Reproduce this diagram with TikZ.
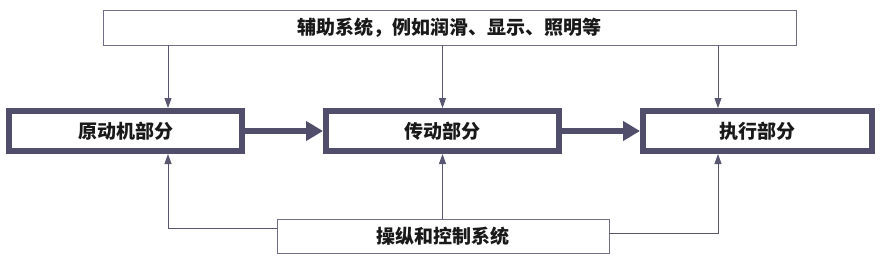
\documentclass[tikz,border=0pt]{standalone}
\usepackage{fontspec}
\newfontfamily\cjk{Noto Sans CJK SC}
\usetikzlibrary{arrows.meta}
\definecolor{frame}{RGB}{80,78,106}
\definecolor{thinline}{RGB}{88,86,112}
\begin{document}
\begin{tikzpicture}[x=1pt,y=-1pt,
  every node/.style={font=\cjk\bfseries\fontsize{19}{22}\selectfont, text=black!90, inner sep=0pt},
  partbox/.style={draw=frame, line width=6pt, minimum width=233pt, minimum height=40pt},
  sysbox/.style={draw=thinline!85, line width=0.9pt, fill=white},
  thinarrow/.style={draw=thinline, line width=0.9pt, -{Triangle[length=10pt,width=7pt]}},
  thickarrow/.style={draw=frame, line width=6pt, -{Triangle[length=17pt,width=19pt]}}]
\useasboundingbox[fill=white] (0,0) rectangle (884,263);
\node[sysbox, minimum width=693pt, minimum height=35pt] (aux) at (449.5,27.5) {辅助系统，例如润滑、显示、照明等};
\node[partbox] (prime) at (125.5,131) {原动机部分};
\node[partbox] (trans) at (442.5,131) {传动部分};
\node[partbox, minimum width=229pt] (exec) at (757.5,131) {执行部分};
\node[sysbox, minimum width=332pt, minimum height=34pt] (ctrl) at (443,236) {操纵和控制系统};
% thick flow arrows
\draw[thickarrow] (prime.east) -- (trans.west);
\draw[thickarrow] (trans.east) -- (exec.west);
% auxiliary system arrows
\draw[thinarrow] ([xshift=42.5pt]prime.north |- aux.south) -- ([xshift=42.5pt]prime.north);
\draw[thinarrow] (trans.north |- aux.south) -- (trans.north);
\draw[thinarrow] ([xshift=-39.5pt]exec.north |- aux.south) -- ([xshift=-39.5pt]exec.north);
% control system arrows
\draw[thinarrow] ([yshift=8pt]ctrl.west) -| ([xshift=42.5pt]prime.south);
\draw[thinarrow] (trans.south |- ctrl.north) -- (trans.south);
\draw[thinarrow] ([yshift=3pt]ctrl.east) -| ([xshift=-39.5pt]exec.south);
\end{tikzpicture}
\end{document}
